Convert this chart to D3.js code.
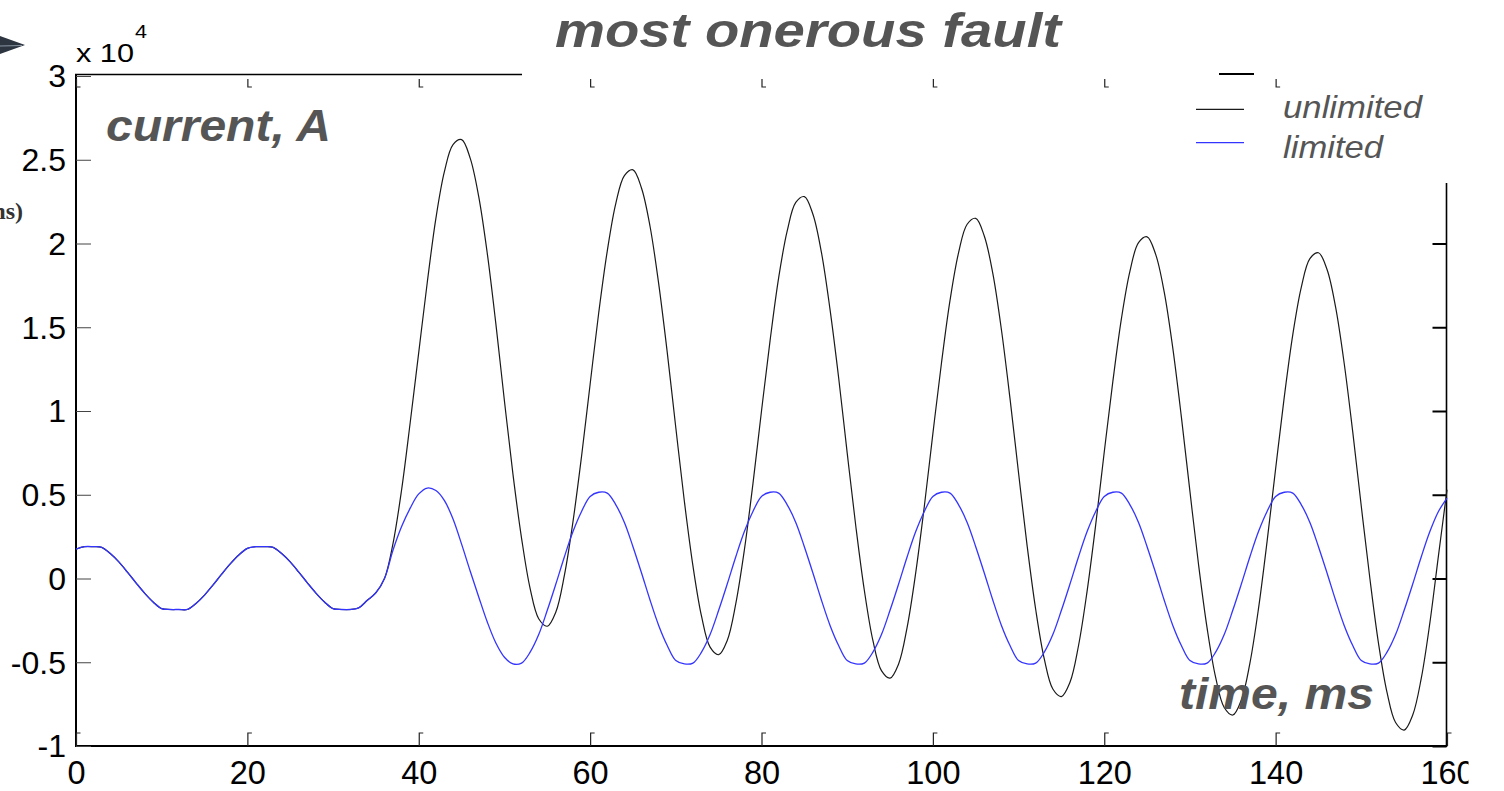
<!DOCTYPE html>
<html>
<head>
<meta charset="utf-8">
<script src="https://cdn.jsdelivr.net/npm/d3@7"></script>
<style>
  body { margin: 0; background: #fff; }
  svg { display: block; }
</style>
</head>
<body>
<svg id="chart" width="1504" height="791"></svg>
<script>
// ---------- data (current in units of 10^4 A, time in ms) ----------
const time = [0,1,2,3,4,5,6,7,8,9,10,11,12,13,14,15,16,17,18,19,20,21,22,23,24,25,26,27,28,29,30,
  31,32,33,34,35,36,37,38,39,40,41,42,43,44,45,46,47,48,49,50,51,52,53,54,55,56,57,58,59,60,
  61,62,63,64,65,66,67,68,69,70,71,72,73,74,75,76,77,78,79,80,81,82,83,84,85,86,87,88,89,90,
  91,92,93,94,95,96,97,98,99,100,101,102,103,104,105,106,107,108,109,110,111,112,113,114,115,
  116,117,118,119,120,121,122,123,124,125,126,127,128,129,130,131,132,133,134,135,136,137,138,
  139,140,141,142,143,144,145,146,147,148,149,150,151,152,153,154,155,156,157,158,159,160];

const unlimited = [
  0.175,0.19,0.19,0.186,0.149,0.099,0.038,-0.026,-0.087,-0.140,-0.180,-0.185,-0.185,-0.185,-0.149,-0.099,
  -0.038,0.026,0.087,0.140,0.180,0.19,0.19,0.186,0.149,0.099,0.038,-0.026,-0.087,-0.140,-0.180,-0.185,
  -0.185,-0.175,-0.13,-0.085,
  0.00,0.21,0.53,0.93,1.35,1.77,2.15,2.43,2.59,2.62,2.51,2.28,1.94,1.52,1.06,0.62,0.24,-0.06,-0.24,-0.285,
  -0.20,0.02,0.34,0.73,1.16,1.585,1.955,2.24,2.405,2.44,2.33,2.10,1.76,1.35,0.90,0.46,0.075,-0.225,-0.41,-0.455,
  -0.37,-0.15,0.17,0.565,1.00,1.42,1.795,2.075,2.245,2.28,2.175,1.945,1.605,1.20,0.75,0.315,-0.07,-0.37,-0.55,-0.595,
  -0.51,-0.29,0.035,0.43,0.865,1.285,1.66,1.945,2.115,2.15,2.045,1.82,1.485,1.075,0.63,0.195,-0.185,-0.48,-0.66,-0.705,
  -0.62,-0.40,-0.075,0.32,0.755,1.175,1.55,1.835,2.005,2.04,1.935,1.71,1.375,0.965,0.52,0.085,-0.295,-0.59,-0.77,-0.815,
  -0.725,-0.505,-0.18,0.22,0.655,1.08,1.455,1.74,1.91,1.945,1.845,1.62,1.285,0.875,0.43,0.00,-0.385,-0.68,-0.86,-0.905,
  -0.815,-0.595,-0.265,0.135,0.53];

const limited = [
  0.175,0.19,0.19,0.186,0.149,0.099,0.038,-0.026,-0.087,-0.140,-0.180,-0.185,-0.185,-0.185,-0.149,-0.099,
  -0.038,0.026,0.087,0.140,0.180,0.19,0.19,0.186,0.149,0.099,0.038,-0.026,-0.087,-0.140,-0.180,-0.185,
  -0.185,-0.175,-0.13,-0.085,
  0.00,0.17,0.31,0.42,0.505,0.54,0.525,0.465,0.355,0.205,0.045,-0.11,-0.26,-0.385,-0.47,-0.51,-0.505,-0.44,-0.335,-0.19,
  -0.033,0.13,0.28,0.40,0.49,0.515,0.51,0.44,0.335,0.19,0.033,-0.13,-0.28,-0.40,-0.49,-0.51,-0.505,-0.44,-0.335,-0.19,
  -0.033,0.13,0.28,0.40,0.49,0.515,0.51,0.44,0.335,0.19,0.033,-0.13,-0.28,-0.40,-0.49,-0.51,-0.505,-0.44,-0.335,-0.19,
  -0.033,0.13,0.28,0.40,0.49,0.515,0.51,0.44,0.335,0.19,0.033,-0.13,-0.28,-0.40,-0.49,-0.51,-0.505,-0.44,-0.335,-0.19,
  -0.033,0.13,0.28,0.40,0.49,0.515,0.51,0.44,0.335,0.19,0.033,-0.13,-0.28,-0.40,-0.49,-0.51,-0.505,-0.44,-0.335,-0.19,
  -0.033,0.13,0.28,0.40,0.49,0.515,0.51,0.44,0.335,0.19,0.033,-0.13,-0.28,-0.40,-0.49,-0.51,-0.505,-0.44,-0.335,-0.19,
  -0.033,0.13,0.28,0.40,0.48];

const xTicks = [0,20,40,60,80,100,120,140,160];
const yTicks = [-1,-0.5,0,0.5,1,1.5,2,2.5,3];
const yTickLabels = ["-1","-0.5","0","0.5","1","1.5","2","2.5","3"];
const seriesNames = ["unlimited","limited"];
const titleText = "most onerous fault";
const yTitle = "current, A";
const xTitle = "time, ms";

// ---------- drawing ----------
const svg = d3.select("#chart");
const SANS = '"Liberation Sans", Arial, Helvetica, sans-serif';
svg.append("rect").attr("width",1504).attr("height",791).attr("fill","#fff");

const x = d3.scaleLinear().domain([0,160]).range([76,1447]);
const y = d3.scaleLinear().domain([-1,3]).range([746,76]);

// stray artefacts at the left edge
svg.append("polygon").attr("points","0,36 25,45 0,54").attr("fill","#2c3540");
svg.append("line").attr("x1",0).attr("y1",46).attr("x2",22).attr("y2",45.5)
  .attr("stroke","#8a96a4").attr("stroke-width",1);
svg.append("text").attr("x",23).attr("y",219).attr("text-anchor","end")
  .attr("font-family",'"Liberation Serif", "Times New Roman", serif').attr("font-weight","bold")
  .attr("font-size",24).attr("fill","#333").text("ms)");

// frame
const frame = svg.append("g").attr("stroke","#000").attr("fill","none");
frame.append("line").attr("x1",x(0)).attr("x2",x(0)).attr("y1",y(3)-2).attr("y2",y(-1)+1).attr("stroke-width",2);
frame.append("line").attr("x1",x(0)-1).attr("x2",x(160)).attr("y1",y(-1)).attr("y2",y(-1)).attr("stroke-width",2);
frame.append("line").attr("x1",x(0)-1).attr("x2",522).attr("y1",y(3)-1.5).attr("y2",y(3)-1.5).attr("stroke-width",1.6);
frame.append("line").attr("x1",1219).attr("x2",1254).attr("y1",y(3)-2).attr("y2",y(3)-2).attr("stroke-width",2);
frame.append("line").attr("x1",x(160)-0.5).attr("x2",x(160)-0.5).attr("y1",183).attr("y2",y(-1)+1).attr("stroke-width",1.6);

// left axis: labels + inward ticks
const yAxis = d3.axisLeft(y).tickValues(yTicks)
  .tickFormat(d => yTickLabels[yTicks.indexOf(d)])
  .tickSizeInner(-15).tickSizeOuter(0).tickPadding(10);
const gy = svg.append("g").attr("transform",`translate(${x(0)},0)`).call(yAxis);
gy.select(".domain").remove();
gy.attr("font-size",32).attr("font-family",SANS);
gy.selectAll(".tick line").attr("stroke","#444").attr("stroke-width",1);
gy.selectAll(".tick text").attr("fill","#000").attr("dy","0.34em");

// right axis ticks (only where the right border is drawn)
const yAxisR = d3.axisRight(y).tickValues(yTicks.filter(v => v <= 2))
  .tickFormat("").tickSizeInner(-14).tickSizeOuter(0);
const gyr = svg.append("g").attr("transform",`translate(${x(160)-0.5},0)`).call(yAxisR);
gyr.select(".domain").remove();
gyr.selectAll(".tick line").attr("stroke","#000").attr("stroke-width",2);

// bottom axis labels; the last one is cut by the picture edge as in the reference
svg.append("clipPath").attr("id","lastclip").append("rect")
  .attr("x",-60).attr("y",-10).attr("width",60 + (1468 - x(160))).attr("height",80);
const xAxis = d3.axisBottom(x).tickValues(xTicks).tickFormat(d => String(d)).tickSize(0).tickPadding(0);
const gx = svg.append("g").attr("transform",`translate(0,${y(-1)})`).call(xAxis);
gx.select(".domain").remove();
gx.attr("font-size",32.5).attr("font-family",SANS);
gx.selectAll(".tick text").attr("fill","#000").attr("y",38).attr("dy",null);
gx.selectAll(".tick text").filter(d => d === 160).attr("clip-path","url(#lastclip)");

// small inward ticks on bottom and top edges
svg.append("g").selectAll("path").data(xTicks).join("path")
  .attr("d", d => `M${x(d)+0.5},${y(-1)} V${y(-1)-13} h4`)
  .attr("fill","none").attr("stroke","#222").attr("stroke-width",1.2);
svg.append("g").selectAll("path").data(xTicks.filter(d => d < 160)).join("path")
  .attr("d", d => `M${x(d)+0.5},${y(3)+3} V${y(3)+11} h4`)
  .attr("fill","none").attr("stroke","#222").attr("stroke-width",1.2);

// series
const line = d3.line().x((d,i) => x(time[i])).y(d => y(d)).curve(d3.curveCatmullRom.alpha(0.5));
svg.append("path").datum(unlimited).attr("d",line)
  .attr("fill","none").attr("stroke","#1a1a1a").attr("stroke-width",1.2);
svg.append("path").datum(limited).attr("d",line)
  .attr("fill","none").attr("stroke","#3434ff").attr("stroke-width",1.3);

// legend
const legColors = ["#1a1a1a","#3434ff"];
const legY = [109.3, 142.7];
const legTextY = [118.3, 158.3];
const legLen = [139, 100];
seriesNames.forEach((name,i) => {
  svg.append("line").attr("x1",1196).attr("x2",1244).attr("y1",legY[i]).attr("y2",legY[i])
    .attr("stroke",legColors[i]).attr("stroke-width",1.3);
  svg.append("text").attr("x",1283).attr("y",legTextY[i])
    .attr("font-family",SANS).attr("font-style","italic").attr("font-size",32).attr("fill","#555")
    .attr("textLength",legLen[i]).attr("lengthAdjust","spacingAndGlyphs").text(name);
});

// titles
svg.append("text").attr("x",555).attr("y",47)
  .attr("font-family",SANS).attr("font-weight","bold").attr("font-style","italic")
  .attr("font-size",48).attr("fill","#555")
  .attr("textLength",506).attr("lengthAdjust","spacingAndGlyphs").text(titleText);
svg.append("text").attr("x",106).attr("y",141)
  .attr("font-family",SANS).attr("font-weight","bold").attr("font-style","italic")
  .attr("font-size",45).attr("fill","#555")
  .attr("textLength",225).attr("lengthAdjust","spacingAndGlyphs").text(yTitle);
svg.append("text").attr("x",1179).attr("y",709)
  .attr("font-family",SANS).attr("font-weight","bold").attr("font-style","italic")
  .attr("font-size",45).attr("fill","#555")
  .attr("textLength",195).attr("lengthAdjust","spacingAndGlyphs").text(xTitle);

// exponent label
svg.append("text").attr("x",76).attr("y",62)
  .attr("font-family",SANS).attr("font-size",26).attr("fill","#000")
  .attr("textLength",58).attr("lengthAdjust","spacingAndGlyphs").text("x 10");
svg.append("text").attr("x",135).attr("y",38)
  .attr("font-family",SANS).attr("font-size",19).attr("fill","#000")
  .attr("textLength",12).attr("lengthAdjust","spacingAndGlyphs").text("4");
</script>
</body>
</html>
